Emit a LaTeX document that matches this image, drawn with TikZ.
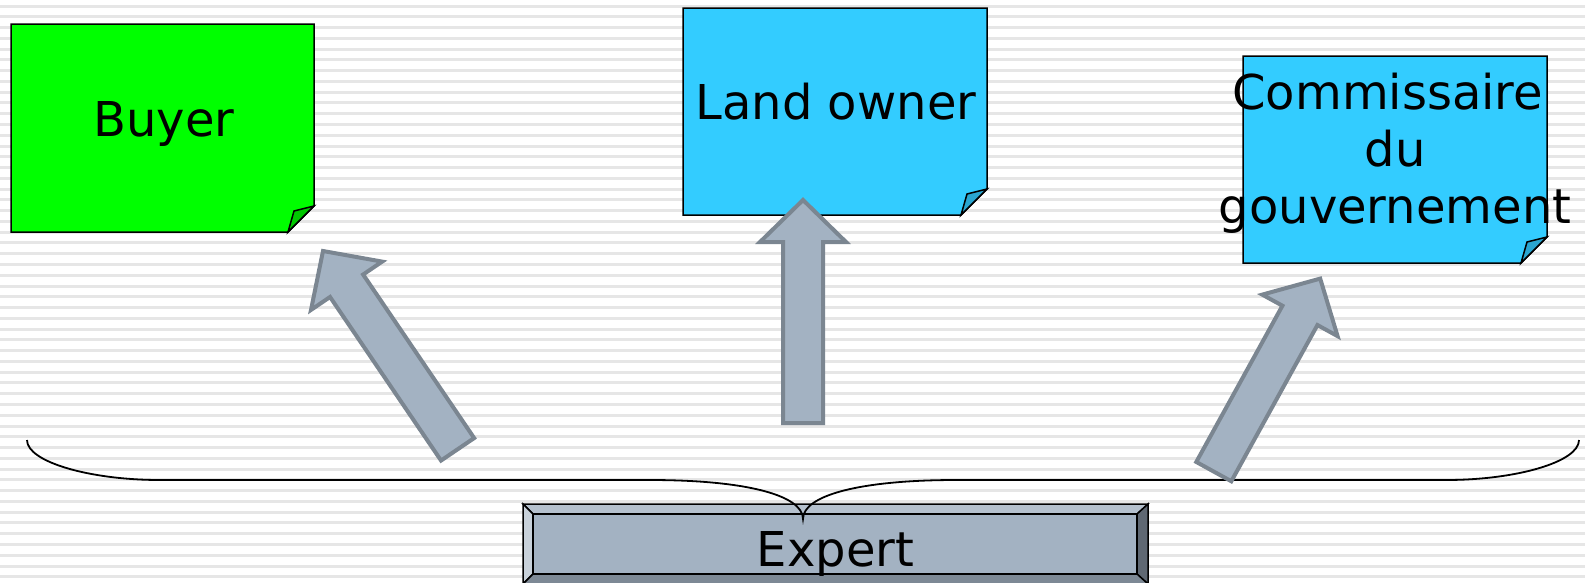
\documentclass[tikz,border=0pt]{standalone}
\usepackage{fontspec}
\setmainfont{DejaVu Sans}
\usetikzlibrary{calc}
\definecolor{buyergreen}{HTML}{00FF00}
\definecolor{flapgreen}{HTML}{00C800}
\definecolor{notecyan}{HTML}{33CCFF}
\definecolor{flapcyan}{HTML}{2AA5D0}
\definecolor{arrowfill}{HTML}{A3B2C2}
\definecolor{arrowline}{HTML}{7B8691}
\definecolor{bevtop}{HTML}{B5C1CE}
\definecolor{bevleft}{HTML}{C8D1DA}
\definecolor{bevright}{HTML}{5F6873}
\definecolor{bevbottom}{HTML}{7D8995}
\definecolor{stripecol}{HTML}{E6E6E6}
\newcommand\stickynote[6]{%
  \filldraw[notebox, fill=#5] (#1,#2) -- (#3,#2) -- (#3,#4-26) -- (#3-26,#4) -- (#1,#4) -- cycle;
  \filldraw[notebox, fill=#6] (#3-26,#4) -- (#3-20,#4-21) -- (#3,#4-26) -- cycle;}
\newcommand\blockarr[2]{%
  \coordinate (hb) at ($(#2)!42pt!(#1)$);
  \draw[blockarrow] ($(#1)!20pt!90:(#2)$) -- ($(hb)!20pt!90:(#2)$) -- ($(hb)!43pt!90:(#2)$)
    -- (#2) -- ($(hb)!43pt!-90:(#2)$) -- ($(hb)!20pt!-90:(#2)$) -- ($(#1)!20pt!-90:(#2)$) -- cycle;}
\begin{document}
\begin{tikzpicture}[x=1pt,y=-1pt,
  notebox/.style={draw=black, line width=1.5pt, line join=miter},
  notetext/.style={font=\fontsize{48}{57}\selectfont, inner sep=0pt, align=center},
  blockarrow/.style={fill=arrowfill, draw=arrowline, line width=4pt, line join=miter},
  bevel/.style={draw=black, line width=1.5pt, line join=miter},
  bracestyle/.style={draw=black, line width=1.8pt}]
\useasboundingbox (0,0) rectangle (1585,582);
% striped background
\foreach \i in {0,...,53} \fill[stripecol] (0,{6+10.77*\i-1.5}) rectangle (1585,{6+10.77*\i+1.5});
% sticky notes
\stickynote{11}{24}{314}{232}{buyergreen}{flapgreen}
\stickynote{683}{8}{987}{215}{notecyan}{flapcyan}
\stickynote{1243}{56}{1547}{263}{notecyan}{flapcyan}
\node[notetext, anchor=base] (buyer) at (164,136.5) {Buyer};
\node[notetext, anchor=base] (landowner) at (836,119.3) {Land owner};
\node[notetext, anchor=base] (commissaire) at (1395,223) {Commissaire\kern0.3em\\du\\gouvernement};
% expert bevel box
\fill[arrowfill] (523,504) rectangle (1148,584);
\filldraw[bevel, fill=bevtop] (523,504) -- (1148,504) -- (1137,514) -- (533,514) -- cycle;
\filldraw[bevel, fill=bevleft] (523,504) -- (533,514) -- (533,574) -- (523,584) -- cycle;
\filldraw[bevel, fill=bevright] (1148,504) -- (1137,514) -- (1137,574) -- (1148,584) -- cycle;
\filldraw[bevel, fill=bevbottom] (523,584) -- (533,574) -- (1137,574) -- (1148,584) -- cycle;
\draw[bevel] (533,514) rectangle (1137,574);
\node[notetext, anchor=base] (expert) at (835.5,566) {Expert};
% brace
\coordinate (braceL) at (27,440);
\coordinate (braceR) at (1579,440);
\coordinate (braceTip) at (803,519);
\draw[bracestyle] (braceL) .. controls (27,462) and (90,480) .. (160,480) -- (650,480)
  .. controls (745,480) and (803,495) .. (braceTip)
  .. controls (803,495) and (861,480) .. (956,480) -- (1446,480)
  .. controls (1516,480) and (1579,462) .. (braceR);
% block arrows
\coordinate (t1) at (457.6,449.3); \coordinate (p1) at (323,251);
\coordinate (t2) at (803,423);     \coordinate (p2) at (803,200);
\coordinate (t3) at (1213.8,471.6); \coordinate (p3) at (1320.2,278.6);
\blockarr{t1}{p1}
\blockarr{t2}{p2}
\blockarr{t3}{p3}
\end{tikzpicture}
\end{document}
